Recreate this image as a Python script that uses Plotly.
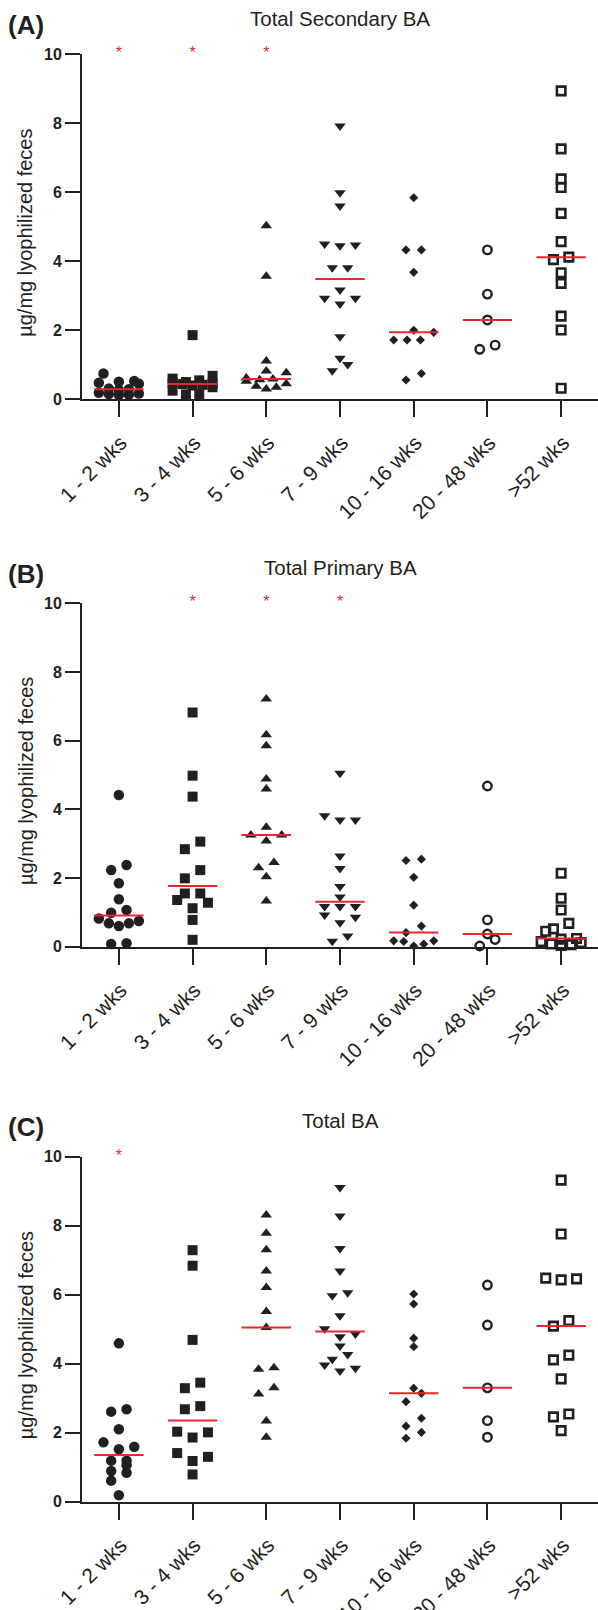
import numpy as np
import plotly.graph_objects as go

# ---------------- data ----------------
categories = ["1 - 2 wks", "3 - 4 wks", "5 - 6 wks", "7 - 9 wks",
              "10 - 16 wks", "20 - 48 wks", ">52 wks"]

secondary_ba = [
    [0.75, 0.53, 0.51, 0.48, 0.45, 0.31, 0.29, 0.27, 0.19, 0.17, 0.15, 0.14, 0.13],
    [1.86, 0.68, 0.60, 0.55, 0.50, 0.48, 0.45, 0.44, 0.42, 0.40, 0.35, 0.25, 0.15, 0.14],
    [5.03, 3.57, 1.11, 0.82, 0.77, 0.62, 0.59, 0.57, 0.52, 0.45, 0.38, 0.35, 0.30],
    [7.92, 5.99, 5.60, 4.50, 4.47, 4.45, 3.81, 3.81, 3.17, 2.93, 2.93, 2.76, 1.81, 1.19, 1.01, 0.83],
    [5.84, 4.33, 4.33, 3.68, 2.00, 1.94, 1.72, 1.72, 1.72, 0.75, 0.56],
    [4.33, 3.05, 2.30, 1.57, 1.45],
    [8.94, 7.26, 6.39, 6.14, 5.39, 4.57, 4.12, 4.05, 3.67, 3.36, 2.41, 2.01, 0.32],
]

primary_ba = [
    [4.42, 2.38, 2.23, 1.85, 1.38, 1.07, 0.99, 0.82, 0.75, 0.68, 0.68, 0.60, 0.10, 0.08],
    [6.82, 4.98, 4.37, 3.06, 2.84, 2.23, 1.99, 1.55, 1.55, 1.36, 1.28, 1.12, 0.78, 0.20],
    [7.21, 6.17, 5.85, 4.88, 4.59, 3.48, 3.25, 3.25, 3.08, 2.45, 2.30, 2.04, 1.33],
    [5.05, 3.81, 3.69, 3.69, 2.64, 2.28, 1.75, 1.45, 1.17, 1.17, 1.17, 0.92, 0.86, 0.70, 0.31, 0.16],
    [2.55, 2.51, 2.02, 1.21, 0.60, 0.41, 0.17, 0.17, 0.15, 0.08, 0.02],
    [4.68, 0.78, 0.37, 0.21, 0.02],
    [2.14, 1.41, 1.07, 0.68, 0.52, 0.45, 0.24, 0.22, 0.15, 0.12, 0.08, 0.06, 0.04],
]

total_ba = [
    [4.59, 2.68, 2.61, 2.10, 1.72, 1.59, 1.52, 1.19, 1.19, 1.06, 0.89, 0.84, 0.61, 0.19],
    [7.29, 6.84, 4.69, 3.45, 3.29, 2.77, 2.68, 2.03, 2.01, 1.86, 1.41, 1.30, 1.18, 0.79],
    [8.31, 7.78, 7.30, 6.69, 6.21, 5.51, 5.05, 3.88, 3.84, 3.30, 3.12, 2.34, 1.87],
    [9.11, 8.28, 7.34, 6.69, 6.06, 5.97, 5.39, 5.01, 4.86, 4.78, 4.51, 4.27, 4.13, 3.96, 3.87, 3.79],
    [6.02, 5.73, 4.74, 4.49, 3.29, 3.14, 2.90, 2.42, 2.19, 2.01, 1.84],
    [6.28, 5.12, 3.30, 2.35, 1.87],
    [9.32, 7.76, 6.48, 6.46, 6.43, 5.25, 5.09, 4.25, 4.11, 3.56, 2.54, 2.46, 2.06],
]

sig_secondary = [0, 1, 2]
sig_primary = [1, 2, 3]
sig_total = [0]

panel_titles = ["Total Secondary BA", "Total Primary BA", "Total BA"]
panel_letters = ["(A)", "(B)", "(C)"]
y_title = "µg/mg lyophilized feces"
y_ticks = [0, 2, 4, 6, 8, 10]

# ---------------- styling / layout ----------------
W, H = 598, 1610
FONT = "Liberation Sans, Arial, Helvetica, sans-serif"
INK = "#231f20"
RED = "#e8262c"

X_LEFT = 82.0
PX_PER_CAT = (W - X_LEFT) / 7.0
# plot area (top px of value 10, bottom px of value 0) for each panel
panel_px = [(54.3, 399.3), (603.3, 946.7), (1156.7, 1501.7)]

marker_styles = [
    dict(symbol="circle", size=10.5, color=INK, line=dict(width=0)),
    dict(symbol="square", size=10, color=INK, line=dict(width=0)),
    dict(symbol="triangle-up", size=10, color=INK, line=dict(width=0)),
    dict(symbol="triangle-down", size=10, color=INK, line=dict(width=0)),
    dict(symbol="diamond", size=7, color=INK, line=dict(width=0)),
    dict(symbol="circle-open", size=8.5, color=INK, line=dict(width=2.4, color=INK)),
    dict(symbol="square-open", size=8.5, color=INK, line=dict(width=2.6, color=INK)),
]


def swarm_offsets(vals, h=0.245, step_px=15.4, half_px=20.0, max_n=5):
    """Prism-like row layout: nearby values share a row and are spread sideways."""
    vals = np.asarray(vals, dtype=float)
    order = np.argsort(vals, kind="stable")
    groups, cur = [], []
    for idx in order:
        if cur and (vals[idx] - vals[cur[0]] >= h or len(cur) >= max_n):
            groups.append(cur)
            cur = []
        cur.append(idx)
    if cur:
        groups.append(cur)
    offs = np.zeros(len(vals))
    for g in groups:
        n = len(g)
        if n == 1:
            continue
        sp = min(step_px, 2 * half_px / (n - 1))
        if n % 2 == 1:
            slots = [0, 1, -1, 2, -2, 3, -3]
        else:
            slots = [-0.5, 0.5, -1.5, 1.5, -2.5, 2.5]
        for k, idx in enumerate(g):
            offs[idx] = slots[k] * sp / PX_PER_CAT
    return offs


fig = go.Figure()
datasets = [secondary_ba, primary_ba, total_ba]
sigs = [sig_secondary, sig_primary, sig_total]

for p, (data, sig) in enumerate(zip(datasets, sigs)):
    xa = "x" if p == 0 else f"x{p+1}"
    ya = "y" if p == 0 else f"y{p+1}"
    # points
    for i, vals in enumerate(data):
        offs = swarm_offsets(vals)
        fig.add_trace(go.Scatter(
            x=i + offs, y=vals, mode="markers", marker=marker_styles[i],
            xaxis=xa, yaxis=ya, cliponaxis=False, hoverinfo="skip"))
    # medians
    for i, vals in enumerate(data):
        m = float(np.median(vals))
        fig.add_trace(go.Scatter(
            x=[i - 0.335, i + 0.335], y=[m, m], mode="lines",
            line=dict(color=RED, width=2), xaxis=xa, yaxis=ya,
            cliponaxis=False, hoverinfo="skip"))
    # significance asterisks
    fig.add_trace(go.Scatter(
        x=sig, y=[10] * len(sig), mode="text", text=["*"] * len(sig),
        textposition="middle center",
        textfont=dict(color=RED, size=16, family=FONT),
        xaxis=xa, yaxis=ya, cliponaxis=False, hoverinfo="skip"))

layout = dict(
    width=W, height=H, margin=dict(l=0, r=0, t=0, b=0, autoexpand=False),
    paper_bgcolor="white", plot_bgcolor="white", showlegend=False,
    font=dict(family=FONT, color=INK),
)

annotations = []
for p in range(3):
    top, bot = panel_px[p]
    sfx = "" if p == 0 else str(p + 1)
    layout["xaxis" + sfx] = dict(
        domain=[X_LEFT / W, 1.0], range=[-0.5, 6.5], automargin=False,
        tickmode="array", tickvals=list(range(7)), ticktext=categories,
        tickangle=-45, ticks="outside", ticklen=16, tickwidth=2, tickcolor=INK,
        ticklabelstandoff=5, ticklabelshift=2,
        showline=True, linewidth=2, linecolor=INK, showgrid=False, zeroline=False,
        tickfont=dict(family=FONT, size=21, color=INK),
        anchor="y" + sfx, fixedrange=True,
    )
    layout["yaxis" + sfx] = dict(
        domain=[1 - bot / H, 1 - top / H], range=[0, 10], automargin=False,
        tickmode="array", tickvals=y_ticks,
        ticks="outside", ticklen=15, tickwidth=2, tickcolor=INK,
        showline=True, linewidth=2, linecolor=INK, showgrid=False, zeroline=False,
        tickfont=dict(family=FONT, size=16, color=INK, weight="bold"),
        anchor="x" + sfx, fixedrange=True,
    )
    # title
    annotations.append(dict(
        text=panel_titles[p], xref="paper", yref="paper",
        x=(X_LEFT + W) / 2 / W, y=1 - (top - 36.0) / H,
        xanchor="center", yanchor="middle", showarrow=False,
        font=dict(family=FONT, size=20.5, color=INK)))
    # panel letter
    annotations.append(dict(
        text=panel_letters[p], xref="paper", yref="paper",
        x=6.0 / W, y=1 - (top - 29.5) / H,
        xanchor="left", yanchor="middle", showarrow=False,
        font=dict(family=FONT, size=26, color=INK, weight="bold")))
    # y axis title
    annotations.append(dict(
        text=y_title, xref="paper", yref="paper", textangle=-90,
        x=25.5 / W, y=1 - ((top + bot) / 2 + 6.5) / H,
        xanchor="center", yanchor="middle", showarrow=False,
        font=dict(family=FONT, size=20, color=INK)))

layout["annotations"] = annotations
fig.update_layout(**layout)
fig.write_html("out.html")
